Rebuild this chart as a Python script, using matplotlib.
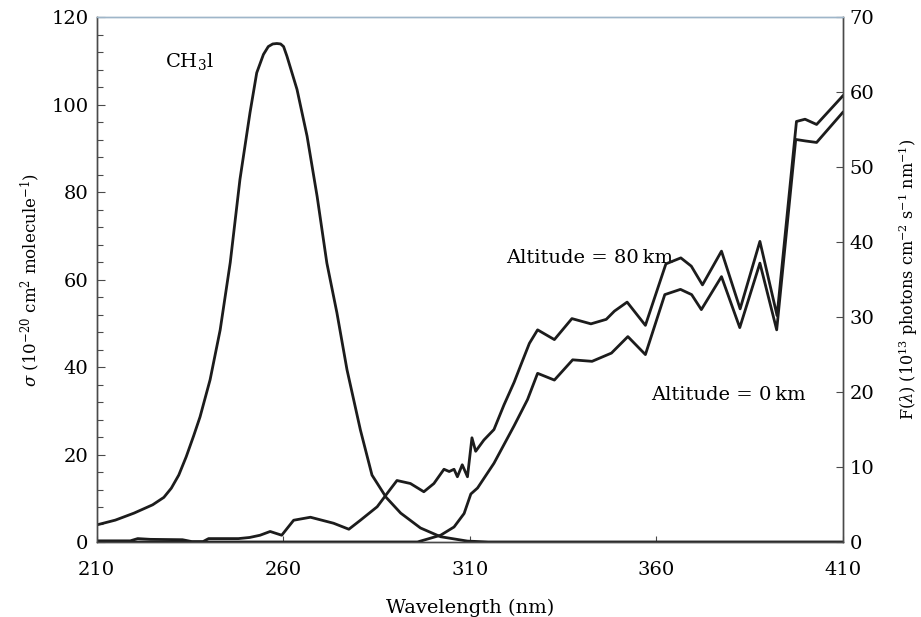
import numpy as np
import matplotlib
matplotlib.use("Agg")
import matplotlib.pyplot as plt
from matplotlib.ticker import MultipleLocator

# === Data ===
# CH3I absorption cross-section, left axis (1e-20 cm2 molecule-1)
wl_sigma = [210, 215, 220, 225, 228, 230, 232, 234, 236, 237.7, 240.4, 243.1, 245.8,
            248.4, 251.1, 252.9, 254.7, 256, 257.2, 258.3, 259.3, 260.1, 261, 263.7,
            266.4, 269.1, 271.7, 274.4, 277.1, 280.7, 283.8, 287.6, 291.5, 296.8,
            302.2, 309.4, 315, 330, 360, 410]
sigma = [3.9, 5.0, 6.6, 8.5, 10.2, 12.3, 15.3, 19.5, 24.3, 28.6, 37.1, 48.5, 63.9,
         82.9, 98.2, 107.3, 111.5, 113.3, 113.9, 114.0, 113.9, 113.3, 111.1, 103.5,
         92.8, 79.0, 63.8, 52.4, 39.4, 25.6, 15.3, 10.2, 6.6, 3.2,
         1.2, 0.2, 0.0, 0.0, 0.0, 0.0]

# actinic flux at 80 km, right axis (1e13 photons cm-2 s-1 nm-1)
wl_80 = [210, 219, 221, 224.4, 233, 235.5, 238.5, 240, 248, 251, 253.8, 256.5, 259.6,
         262.8, 267.3, 273.5, 277.6, 280.7, 285.2, 287.9, 290.5, 294.1, 297.7, 300.4,
         303.1, 304.5, 305.8, 306.7, 308, 309.4, 310.6, 311.6, 313.8, 316.5, 319.2,
         321.9, 323.7, 326, 328.2, 332.7, 337.4, 342.5, 346.6, 348.8, 352.2, 357.1,
         362.6, 366.6, 369.4, 372.4, 377.5, 382.5, 387.8, 392.4, 397.6, 399.9, 403,
         410]
flux_80 = [0.15, 0.15, 0.45, 0.35, 0.3, 0.05, 0.05, 0.45, 0.45, 0.6, 0.9, 1.4, 0.9,
           2.9, 3.3, 2.5, 1.7, 2.9, 4.7, 6.5, 8.2, 7.8, 6.7, 7.8,
           9.7, 9.4, 9.7, 8.7, 10.3, 8.7, 13.9, 12.1, 13.6, 15.0, 18.3,
           21.3, 23.6, 26.5, 28.3, 27.0, 29.8, 29.1, 29.7, 30.8, 32.0, 28.9,
           37.1, 37.9, 36.8, 34.3, 38.8, 31.1, 40.1, 30.2, 56.1, 56.4, 55.7,
           59.5]

# actinic flux at the ground
wl_0 = [210, 296, 302.2, 305.8, 308.5, 310.3, 312.1, 316.5, 319.2, 321.9, 325.5,
        328.2, 332.7, 337.6, 342.8, 348, 352.4, 357.1, 362.3, 366.5, 369.5, 372.1,
        377.5, 382.4, 387.8, 392.3, 397.4, 400, 403, 410]
flux_0 = [0.0, 0.0, 0.9, 2.0, 3.8, 6.4, 7.2, 10.5, 13.0, 15.5, 19.0,
          22.5, 21.6, 24.3, 24.1, 25.2, 27.4, 25.0, 33.0, 33.7, 33.0, 31.0,
          35.4, 28.6, 37.2, 28.3, 53.7, 53.5, 53.3, 57.3]

# === Style ===
plt.rcParams['font.family'] = ['DejaVu Serif']
plt.rcParams['mathtext.fontset'] = 'dejavuserif'
line_col = '#1c1c1c'
spine_col = '#4a4a4a'
top_col = '#9fb6c9'

fig = plt.figure(figsize=(9.21, 6.17), dpi=100)
ax = fig.add_axes([0.105, 0.1216, 0.81, 0.8504])
ax2 = ax.twinx()

ax.plot(wl_sigma, sigma, color=line_col, lw=2.0, solid_joinstyle='round')
ax2.plot(wl_80, flux_80, color=line_col, lw=2.0, solid_joinstyle='round')
ax2.plot(wl_0, flux_0, color=line_col, lw=2.0, solid_joinstyle='round')

ax.set_xlim(210, 410)
ax.set_ylim(0, 120)
ax2.set_ylim(0, 70)

ax.set_xticks([210, 260, 310, 360, 410])
ax.set_yticks(np.arange(0, 121, 20))
ax.yaxis.set_minor_locator(MultipleLocator(4))
ax2.set_yticks(np.arange(0, 71, 10))

ax.tick_params(axis='x', direction='in', length=4, width=0.8, pad=14,
               labelsize=14, color=spine_col)
ax.tick_params(axis='y', which='major', direction='in', length=6, width=0.8,
               pad=6, labelsize=14, color=spine_col)
ax.tick_params(axis='y', which='minor', direction='in', length=4, width=0.8,
               color=spine_col)
ax2.tick_params(axis='y', direction='in', length=5, width=0.8, pad=5,
                labelsize=14, color=spine_col)

for a in (ax, ax2):
    for side in ('left', 'right', 'bottom'):
        a.spines[side].set_color(spine_col)
        a.spines[side].set_linewidth(1.0)
    a.spines['top'].set_color(top_col)
    a.spines['top'].set_linewidth(1.0)

ax.set_xlabel('Wavelength (nm)', fontsize=14, labelpad=14)
ax.set_ylabel(r'$\sigma$ (10$^{-20}$ cm$^{2}$ molecule$^{-1}$)', fontsize=12, labelpad=7)
ax2.set_ylabel(r'F($\lambda$) (10$^{13}$ photons cm$^{-2}$ s$^{-1}$ nm$^{-1}$)',
               fontsize=11.5, labelpad=16)

# === Annotations ===
ax.text(228.3, 110, r'CH$_3$l', fontsize=14, ha='left', va='center')
ax.text(319.7, 65, 'Altitude = 80\u2009km', fontsize=14, ha='left', va='center')
ax.text(358.7, 33.7, 'Altitude = 0\u2009km', fontsize=14, ha='left', va='center')

fig.savefig('out.png', dpi=100)
